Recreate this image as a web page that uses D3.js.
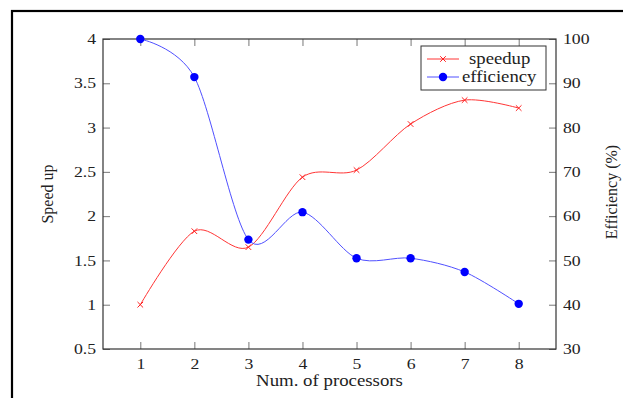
<!DOCTYPE html>
<html>
<head>
<meta charset="utf-8">
<script src="https://cdn.jsdelivr.net/npm/d3@7"></script>
<style>
  body { margin: 0; background: #fff; }
  text { font-family: "Liberation Serif", "DejaVu Serif", serif; fill: #222; }
</style>
</head>
<body>
<div id="chart"></div>
<script>
// data
var processors = [1, 2, 3, 4, 5, 6, 7, 8];
var speedup = [1.0, 1.83, 1.65, 2.44, 2.52, 3.04, 3.31, 3.22];
var efficiency = [100, 91.4, 54.7, 60.9, 50.5, 50.5, 47.4, 40.2];
var speedTicks = [0.5, 1, 1.5, 2, 2.5, 3, 3.5, 4];
var effTicks = [30, 40, 50, 60, 70, 80, 90, 100];

var W = 623, H = 398;
var plotL = 103, plotR = 556, plotT = 39, plotB = 349;

var svg = d3.select("#chart").append("svg")
    .attr("width", W)
    .attr("height", H);

// the picture is a bit wider than tall, so horizontal text gets stretched
function widen(sel, f) {
    sel.each(function () {
        var w = this.getComputedTextLength();
        d3.select(this).attr("textLength", w * f).attr("lengthAdjust", "spacingAndGlyphs");
    });
}

// outer frame
svg.append("rect")
    .attr("x", 12).attr("y", 11)
    .attr("width", 640).attr("height", 420)
    .attr("fill", "none")
    .attr("stroke", "#000")
    .attr("stroke-width", 2.2);

var x = d3.scaleLinear().domain([0.31, 8.69]).range([plotL, plotR]);
var yL = d3.scaleLinear().domain([0.5, 4]).range([plotB, plotT]);
var yR = d3.scaleLinear().domain([30, 100]).range([plotB, plotT]);

var tick = 7;

// bottom axis (ticks inward)
var gb = svg.append("g").attr("transform", "translate(0," + plotB + ")")
    .call(d3.axisBottom(x).tickValues(processors).tickSizeInner(-tick).tickSizeOuter(0).tickPadding(10).tickFormat(d3.format("d")));
// top axis ticks, no labels
var gt = svg.append("g").attr("transform", "translate(0," + plotT + ")")
    .call(d3.axisTop(x).tickValues(processors).tickSizeInner(-tick).tickSizeOuter(0).tickFormat(""));
// left axis
var gl = svg.append("g").attr("transform", "translate(" + plotL + ",0)")
    .call(d3.axisLeft(yL).tickValues(speedTicks).tickSizeInner(-tick).tickSizeOuter(0).tickPadding(7).tickFormat(d3.format("")));
// right axis
var gr = svg.append("g").attr("transform", "translate(" + plotR + ",0)")
    .call(d3.axisRight(yR).tickValues(effTicks).tickSizeInner(-tick).tickSizeOuter(0).tickPadding(7).tickFormat(d3.format("d")));

[gb, gt, gl, gr].forEach(function (g) {
    g.select(".domain").remove();
    g.selectAll("line").attr("stroke", "#777").attr("stroke-width", 1);
    g.selectAll("text").style("font-size", "14.5px").attr("fill", "#222");
    widen(g.selectAll("text"), 1.22);
});

// plot box
svg.append("rect")
    .attr("x", plotL).attr("y", plotT)
    .attr("width", plotR - plotL).attr("height", plotB - plotT)
    .attr("fill", "none")
    .attr("stroke", "#333")
    .attr("stroke-width", 1.2);

var curve = d3.curveCardinal.tension(0.1);

var lineS = d3.line().x(function (d, i) { return x(processors[i]); })
    .y(function (d) { return yL(d); }).curve(curve);
var lineE = d3.line().x(function (d, i) { return x(processors[i]); })
    .y(function (d) { return yR(d); }).curve(curve);

svg.append("path").datum(speedup)
    .attr("d", lineS).attr("fill", "none")
    .attr("stroke", "#ff3535").attr("stroke-width", 1);

svg.append("path").datum(efficiency)
    .attr("d", lineE).attr("fill", "none")
    .attr("stroke", "#5050ff").attr("stroke-width", 1);

function cross(g, cx, cy) {
    var s = 2.8;
    g.append("path")
        .attr("d", "M" + (cx - s) + "," + (cy - s) + "L" + (cx + s) + "," + (cy + s) +
            "M" + (cx - s) + "," + (cy + s) + "L" + (cx + s) + "," + (cy - s))
        .attr("stroke", "#ff2020").attr("stroke-width", 1).attr("fill", "none");
}

var ms = svg.append("g");
speedup.forEach(function (d, i) { cross(ms, x(processors[i]), yL(d)); });

svg.append("g").selectAll("circle")
    .data(efficiency)
    .enter().append("circle")
    .attr("cx", function (d, i) { return x(processors[i]); })
    .attr("cy", function (d) { return yR(d); })
    .attr("r", 4.2)
    .attr("fill", "#0000ff");

// axis labels
var xl = svg.append("text")
    .attr("x", (plotL + plotR) / 2).attr("y", 386)
    .attr("text-anchor", "middle")
    .style("font-size", "16.5px")
    .text("Num. of processors");
widen(xl, 1.14);

svg.append("text")
    .attr("transform", "translate(53," + ((plotT + plotB) / 2) + ") rotate(-90)")
    .attr("text-anchor", "middle")
    .style("font-size", "16px")
    .text("Speed up");

svg.append("text")
    .attr("transform", "translate(617," + ((plotT + plotB) / 2 - 2) + ") rotate(-90)")
    .attr("text-anchor", "middle")
    .style("font-size", "16px")
    .text("Efficiency (%)");

// legend
var lg = svg.append("g");
lg.append("rect")
    .attr("x", 421).attr("y", 46)
    .attr("width", 125).attr("height", 44)
    .attr("fill", "#fff").attr("stroke", "#333").attr("stroke-width", 1);

lg.append("line").attr("x1", 427).attr("x2", 459).attr("y1", 59).attr("y2", 59)
    .attr("stroke", "#ff3535").attr("stroke-width", 1);
cross(lg, 443, 59);
var t1 = lg.append("text").attr("x", 469).attr("y", 64).style("font-size", "17px").text("speedup");

lg.append("line").attr("x1", 427).attr("x2", 459).attr("y1", 77).attr("y2", 77)
    .attr("stroke", "#5050ff").attr("stroke-width", 1);
lg.append("circle").attr("cx", 443).attr("cy", 77).attr("r", 4.2).attr("fill", "#0000ff");
var t2 = lg.append("text").attr("x", 462).attr("y", 82).style("font-size", "17px").text("efficiency");
widen(t1, 1.1);
widen(t2, 1.1);
</script>
</body>
</html>
